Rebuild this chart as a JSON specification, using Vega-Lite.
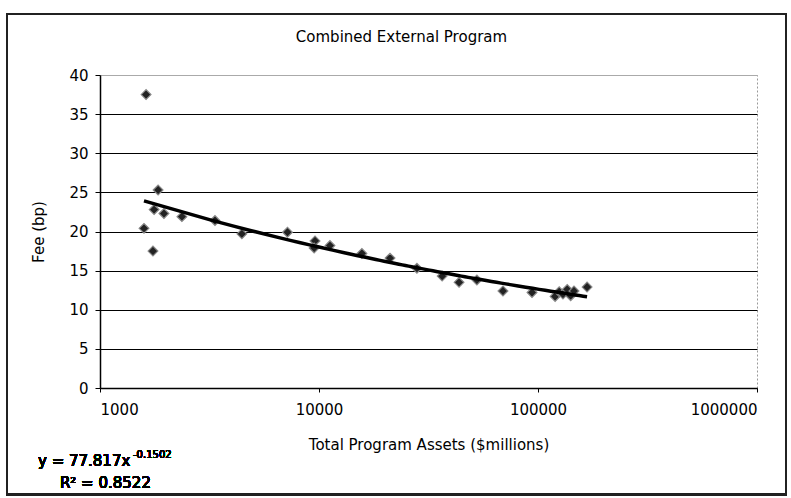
{
  "$schema": "https://vega.github.io/schema/vega-lite/v6.json",
  "width": 657,
  "height": 313,
  "autosize": {"type": "none"},
  "padding": {"left": 100, "top": 75, "right": 34, "bottom": 110},
  "background": "white",
  "title": {"text": "Combined External Program", "font": "DejaVu Sans", "fontSize": 15, "fontWeight": "normal", "color": "black", "anchor": "middle", "baseline": "alphabetic", "offset": -44, "dx": -27},
  "data": {"values": [
    {"assets": 1623, "fee": 37.5},
    {"assets": 1842, "fee": 25.3},
    {"assets": 1766, "fee": 22.8},
    {"assets": 1959, "fee": 22.3},
    {"assets": 2366, "fee": 21.9},
    {"assets": 1588, "fee": 20.4},
    {"assets": 1745, "fee": 17.5},
    {"assets": 3350, "fee": 21.4},
    {"assets": 4444, "fee": 19.7},
    {"assets": 7180, "fee": 19.9},
    {"assets": 9590, "fee": 18.8},
    {"assets": 9500, "fee": 17.9},
    {"assets": 11220, "fee": 18.2},
    {"assets": 15700, "fee": 17.2},
    {"assets": 21100, "fee": 16.6},
    {"assets": 28000, "fee": 15.3},
    {"assets": 36500, "fee": 14.3},
    {"assets": 43600, "fee": 13.5},
    {"assets": 52600, "fee": 13.8},
    {"assets": 69200, "fee": 12.4},
    {"assets": 93900, "fee": 12.2},
    {"assets": 119700, "fee": 11.7},
    {"assets": 125000, "fee": 12.3},
    {"assets": 130000, "fee": 12.0},
    {"assets": 136000, "fee": 12.6},
    {"assets": 141000, "fee": 11.8},
    {"assets": 146000, "fee": 12.4},
    {"assets": 167500, "fee": 12.9}
  ]},
  "encoding": {
    "x": {"field": "assets", "type": "quantitative",
      "scale": {"type": "log", "domain": [1000, 1000000], "nice": false},
      "axis": {"title": "Total Program Assets ($millions)", "values": [1000, 10000, 100000, 1000000], "format": "d", "grid": false, "tickSize": 4, "labelPadding": 10, "titlePadding": 20}},
    "y": {"field": "fee", "type": "quantitative",
      "scale": {"domain": [0, 40], "nice": false, "zero": true},
      "axis": {"title": "Fee (bp)", "values": [0, 5, 10, 15, 20, 25, 30, 35, 40], "grid": true, "tickSize": 5, "labelPadding": 7, "titlePadding": 22,
        "gridColor": {"condition": {"test": "datum.value === 40", "value": "#aaaaaa"}, "value": "black"}}}
  },
  "layer": [
    {"mark": {"type": "point", "shape": "diamond", "filled": true, "size": 95, "color": "#222222", "opacity": 1, "stroke": "#888888", "strokeWidth": 1.2}},
    {"transform": [{"regression": "fee", "on": "assets", "method": "pow", "extent": [1588, 167500]}],
     "mark": {"type": "line", "color": "black", "strokeWidth": 3.5}},
    {"mark": {"type": "text", "align": "left", "baseline": "alphabetic", "font": "DejaVu Sans", "fontSize": 15, "color": "black", "text": "y = 77.817x"},
     "encoding": {"x": {"datum": 521}, "y": {"datum": -10}}},
    {"mark": {"type": "text", "align": "left", "baseline": "alphabetic", "font": "DejaVu Sans", "fontSize": 10, "color": "black", "text": "-0.1502"},
     "encoding": {"x": {"datum": 1415}, "y": {"datum": -8.9}}},
    {"mark": {"type": "text", "align": "left", "baseline": "alphabetic", "font": "DejaVu Sans", "fontSize": 15, "color": "black", "text": "R² = 0.8522"},
     "encoding": {"x": {"datum": 656}, "y": {"datum": -12.8}}},
    {"mark": {"type": "rect", "fill": null, "fillOpacity": 0, "stroke": "#222222", "strokeWidth": 1.5},
     "encoding": {"x": {"datum": 376}, "x2": {"datum": 1355000}, "y": {"datum": 47.8}, "y2": {"datum": -13.6}}}
  ],
  "config": {
    "view": {"stroke": "#999999", "strokeDash": [2, 2]},
    "axis": {"labelFont": "DejaVu Sans", "labelFontSize": 15, "labelColor": "black", "titleFont": "DejaVu Sans", "titleFontSize": 15, "titleFontWeight": "normal", "titleColor": "black", "domainColor": "black", "tickColor": "black", "domainWidth": 1.5, "gridWidth": 1.2}
  }
}
